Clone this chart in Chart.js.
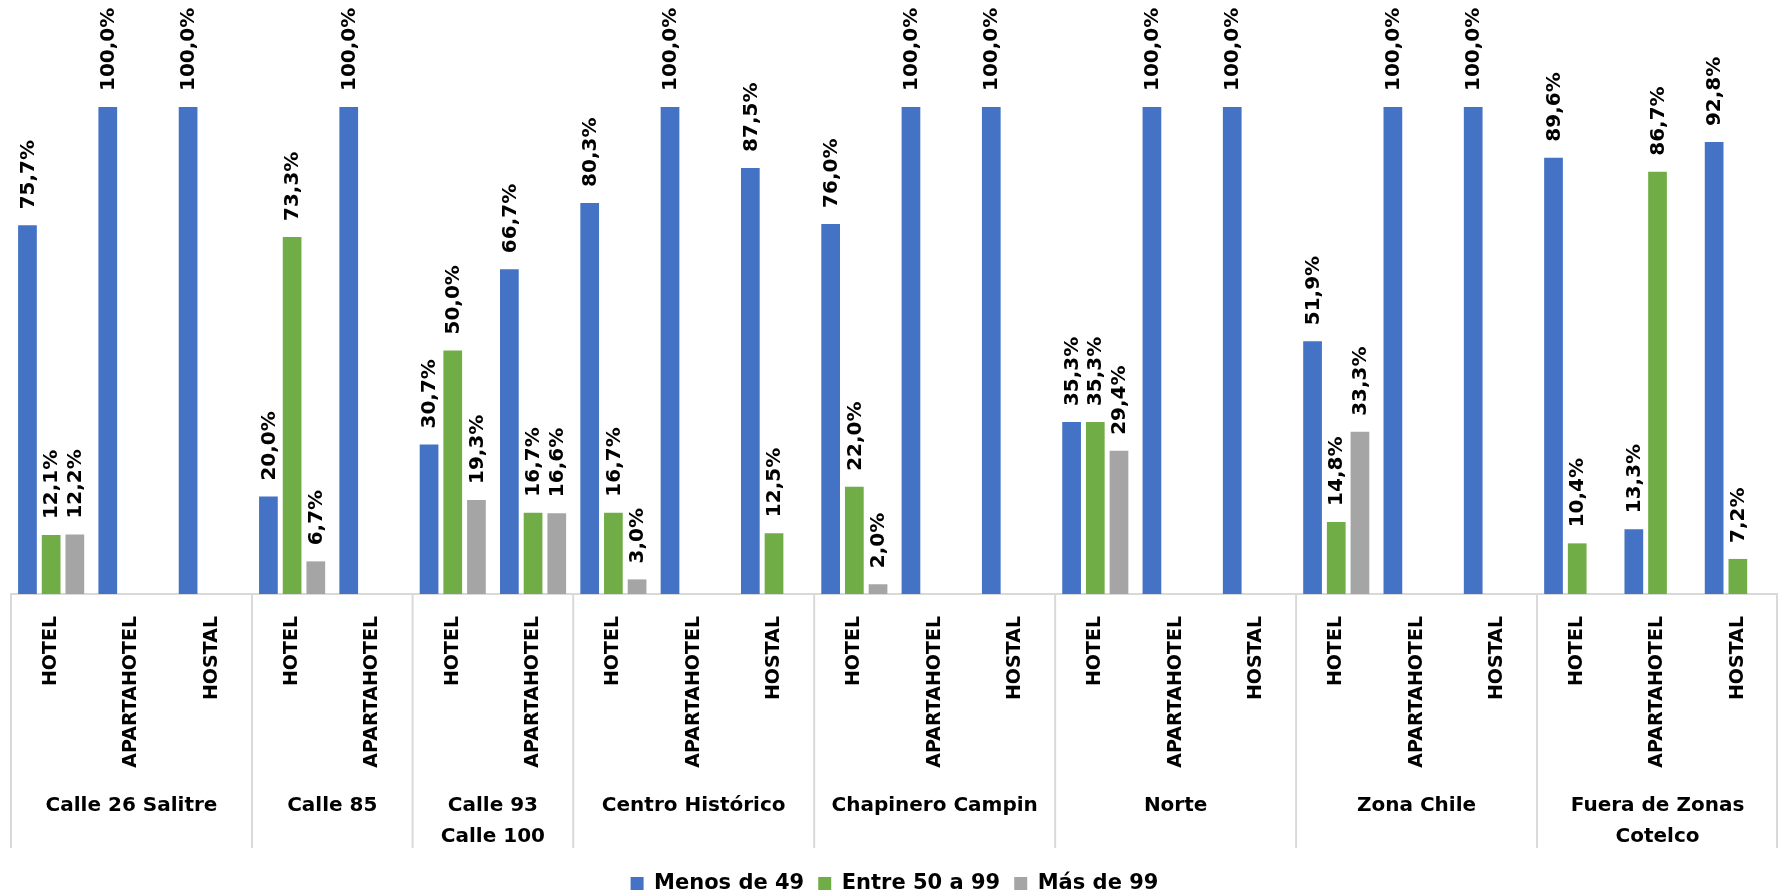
<!DOCTYPE html>
<html lang="es">
<head>
    <meta charset="UTF-8">
    <title>Tamaño de establecimientos por zona</title>
    <script src="https://cdn.jsdelivr.net/npm/chart.js"></script>
    <style>
        html, body { margin: 0; padding: 0; background: #fff; }
        #wrap { width: 1778px; height: 896px; position: relative; }
    </style>
</head>
<body>
<div id="wrap"><canvas id="chart"></canvas></div>
<script>
    // Zones (outer category level) and how many types each one has
    const zones = ['Calle 26 Salitre', 'Calle 85', ['Calle 93', 'Calle 100'], 'Centro Histórico',
        'Chapinero Campin', 'Norte', 'Zona Chile', ['Fuera de Zonas', 'Cotelco']];
    const zoneSizes = [3, 2, 2, 3, 3, 3, 3, 3];

    // Inner category level
    const types = [
        'HOTEL', 'APARTAHOTEL', 'HOSTAL',
        'HOTEL', 'APARTAHOTEL',
        'HOTEL', 'APARTAHOTEL',
        'HOTEL', 'APARTAHOTEL', 'HOSTAL',
        'HOTEL', 'APARTAHOTEL', 'HOSTAL',
        'HOTEL', 'APARTAHOTEL', 'HOSTAL',
        'HOTEL', 'APARTAHOTEL', 'HOSTAL',
        'HOTEL', 'APARTAHOTEL', 'HOSTAL'
    ];

    // Series values (%)
    const menos49 = [75.7, 100, 100, 20.0, 100, 30.7, 66.7, 80.3, 100, 87.5, 76.0, 100, 100,
        35.3, 100, 100, 51.9, 100, 100, 89.6, 13.3, 92.8];
    const entre50a99 = [12.1, null, null, 73.3, null, 50.0, 16.7, 16.7, null, 12.5, 22.0, null, null,
        35.3, null, null, 14.8, null, null, 10.4, 86.7, 7.2];
    const mas99 = [12.2, null, null, 6.7, null, 19.3, 16.6, 3.0, null, null, 2.0, null, null,
        29.4, null, null, 33.3, null, null, null, null, null];

    const FONT = 'DejaVu Sans';

    // Value labels above the bars, rotated
    const barLabels = {
        id: 'barLabels',
        afterDatasetsDraw(chart) {
            const ctx = chart.ctx;
            ctx.save();
            ctx.font = 'bold 20px "' + FONT + '"';
            ctx.fillStyle = '#000';
            ctx.textAlign = 'left';
            ctx.textBaseline = 'middle';
            chart.data.datasets.forEach((ds, i) => {
                const meta = chart.getDatasetMeta(i);
                meta.data.forEach((bar, j) => {
                    const v = ds.data[j];
                    if (v === null) return;
                    ctx.save();
                    ctx.translate(bar.x + 1, bar.y - 16);
                    ctx.rotate(-Math.PI / 2);
                    ctx.fillText(v.toFixed(1).replace('.', ',') + '%', 0, 0);
                    ctx.restore();
                });
            });
            ctx.restore();
        }
    };

    // Outer level of the category axis: zone names and separators
    const zoneAxis = {
        id: 'zoneAxis',
        afterDraw(chart) {
            const ctx = chart.ctx;
            const x = chart.scales.x;
            const area = chart.chartArea;
            const step = x.getPixelForValue(1) - x.getPixelForValue(0);
            ctx.save();
            ctx.strokeStyle = '#D9D9D9';
            ctx.lineWidth = 2;
            ctx.fillStyle = '#000';
            ctx.font = 'bold 20px "' + FONT + '"';
            ctx.textAlign = 'center';
            ctx.textBaseline = 'middle';
            let start = 0;
            zones.forEach((zone, k) => {
                const end = start + zoneSizes[k] - 1;
                const left = x.getPixelForValue(start) - step / 2;
                const right = x.getPixelForValue(end) + step / 2;
                ctx.beginPath();
                ctx.moveTo(left, area.bottom);
                ctx.lineTo(left, area.bottom + 254);
                ctx.stroke();
                if (k === zones.length - 1) {
                    ctx.beginPath();
                    ctx.moveTo(right - 1, area.bottom);
                    ctx.lineTo(right - 1, area.bottom + 254);
                    ctx.stroke();
                }
                const lines = Array.isArray(zone) ? zone : [zone];
                lines.forEach((line, n) => {
                    ctx.fillText(line, (left + right) / 2, area.bottom + 212 + n * 31);
                });
                start = end + 1;
            });
            ctx.restore();
        }
    };

    new Chart(document.getElementById('chart'), {
        type: 'bar',
        data: {
            labels: types,
            datasets: [
                { label: 'Menos de 49', data: menos49, backgroundColor: '#4472C4' },
                { label: 'Entre 50 a 99', data: entre50a99, backgroundColor: '#70AD47' },
                { label: 'Más de 99', data: mas99, backgroundColor: '#A5A5A5' }
            ]
        },
        options: {
            responsive: true,
            maintainAspectRatio: false,
            animation: false,
            categoryPercentage: 0.885,
            barPercentage: 0.79,
            layout: { padding: { top: 107, left: 11, right: 0, bottom: -8 } },
            scales: {
                x: {
                    grid: { display: false },
                    border: { color: '#D9D9D9', width: 2 },
                    ticks: {
                        autoSkip: false,
                        minRotation: 90,
                        maxRotation: 90,
                        padding: 14,
                        color: '#000',
                        font: { family: FONT, size: 19, weight: 'bold' }
                    },
                    afterFit(scale) { scale.height = 265; }
                },
                y: { display: false, min: 0, max: 100 }
            },
            plugins: {
                legend: {
                    position: 'bottom',
                    labels: {
                        boxWidth: 13,
                        boxHeight: 13,
                        padding: 14,
                        color: '#000',
                        font: { family: FONT, size: 21, weight: 'bold' }
                    }
                },
                tooltip: { enabled: false }
            }
        },
        plugins: [barLabels, zoneAxis]
    });
</script>
</body>
</html>
